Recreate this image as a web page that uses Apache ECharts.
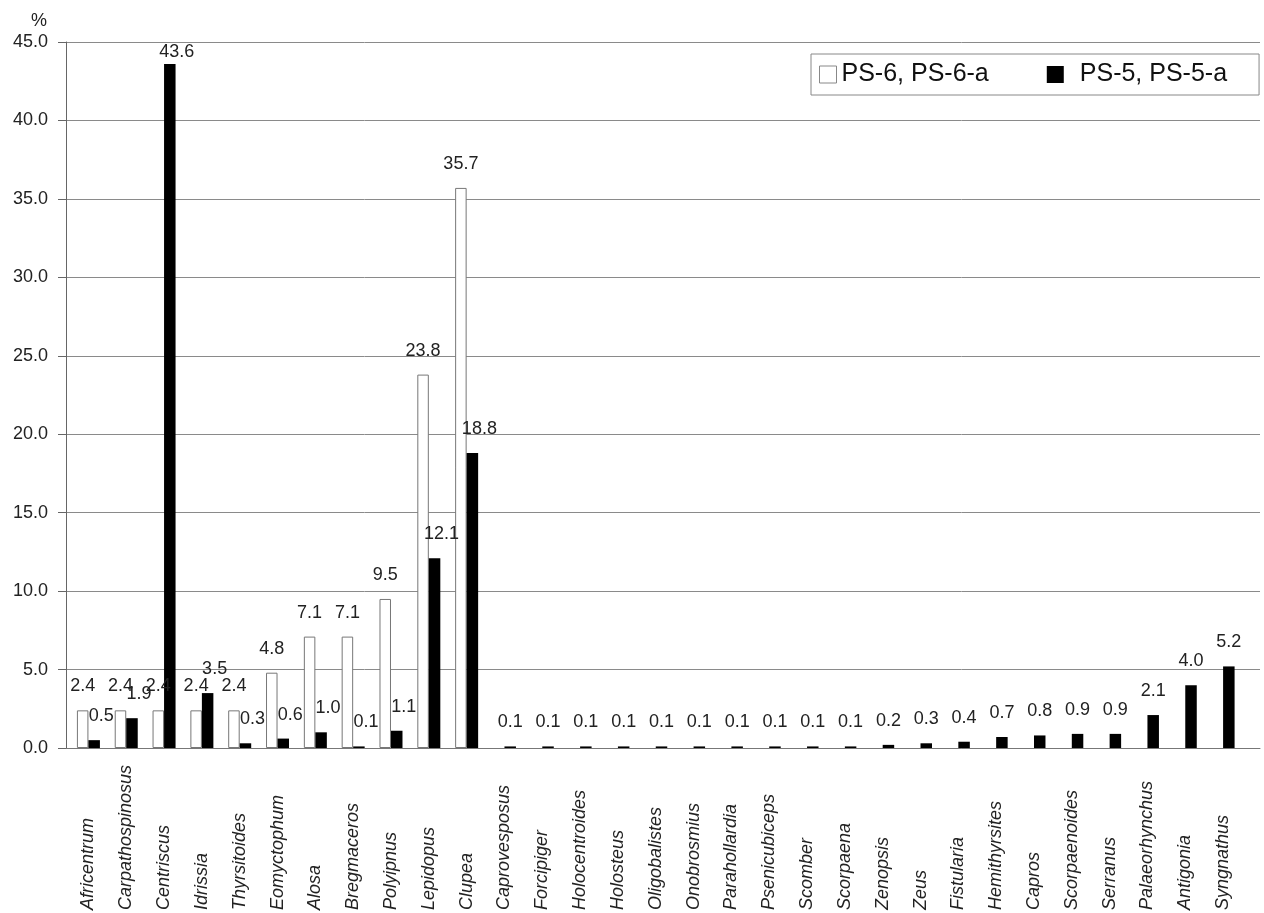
<!DOCTYPE html>
<html>
<head>
<meta charset="utf-8">
<script src="https://cdn.jsdelivr.net/npm/echarts@6/dist/echarts.min.js"></script>
<style>html,body{margin:0;padding:0;background:#fff;}#c{width:1264px;height:913px;}</style>
</head>
<body>
<div id="c"></div>
<script>
const categories = ['Africentrum','Carpathospinosus','Centriscus','Idrissia','Thyrsitoides','Eomyctophum','Alosa','Bregmaceros','Polyipnus','Lepidopus','Clupea','Caprovesposus','Forcipiger','Holocentroides','Holosteus','Oligobalistes','Onobrosmius','Parahollardia','Psenicubiceps','Scomber','Scorpaena','Zenopsis','Zeus','Fistularia','Hemithyrsites','Capros','Scorpaenoides','Serranus','Palaeorhynchus','Antigonia','Syngnathus'];
const ps6 = [2.4,2.4,2.4,2.4,2.4,4.8,7.1,7.1,9.5,23.8,35.7,'-','-','-','-','-','-','-','-','-','-','-','-','-','-','-','-','-','-','-','-'];
const ps5 = [0.5,1.9,43.6,3.5,0.3,0.6,1.0,0.1,1.1,12.1,18.8,0.1,0.1,0.1,0.1,0.1,0.1,0.1,0.1,0.1,0.1,0.2,0.3,0.4,0.7,0.8,0.9,0.9,2.1,4.0,5.2];
const yTicks = [0,5,10,15,20,25,30,35,40,45];
const seriesNames = ['PS-6, PS-6-a','PS-5, PS-5-a'];

const FONT = "'Liberation Sans', Arial, sans-serif";
const chart = echarts.init(document.getElementById('c'));
const fmt = p => Number(p.value).toFixed(1);

const blackData = ps5.map((v, i) => ({
  value: v,
  label: { offset: [ps6[i] !== '-' ? 7 : 0, 0], distance: v > 40 ? 3 : 15 }
}));

chart.setOption({
  animation: false,
  backgroundColor: '#fff',
  textStyle: { fontFamily: FONT },
  grid: [
    { left: 66, right: 4, top: 42, bottom: 165 },
    { left: 69.5, right: 22, top: 42, bottom: 165 }
  ],
  legend: {
    left: 811, top: 54,
    orient: 'horizontal',
    itemWidth: 17, itemHeight: 17, itemGap: 58,
    padding: [8, 32, 8, 8],
    borderColor: '#888', borderWidth: 1, backgroundColor: '#fff',
    textStyle: { fontSize: 25, color: '#111', fontFamily: FONT },
    data: [
      { name: seriesNames[0], icon: 'rect', itemStyle: { color: '#fff', borderColor: '#888', borderWidth: 1 } },
      { name: seriesNames[1], icon: 'rect', itemStyle: { color: '#000' },
        textStyle: { fontSize: 25, color: '#111', fontFamily: FONT, padding: [0, 0, 0, 11] } }
    ]
  },
  xAxis: [
    { gridIndex: 0, type: 'value', min: 0, max: 1, show: true,
      axisLine: { show: true, lineStyle: { color: '#777', width: 1 } },
      axisTick: { show: false }, axisLabel: { show: false }, splitLine: { show: false } },
    { gridIndex: 1, type: 'category', data: categories,
      axisLine: { show: false }, axisTick: { show: false },
      axisLabel: { rotate: 90, align: 'left', verticalAlign: 'middle', margin: 162, interval: 0,
        fontSize: 18, fontStyle: 'italic', color: '#222', fontFamily: FONT } }
  ],
  yAxis: [
    { gridIndex: 0, type: 'value', min: yTicks[0], max: yTicks[yTicks.length - 1], interval: yTicks[1] - yTicks[0],
      name: '%', nameLocation: 'end', nameGap: 12,
      nameTextStyle: { fontSize: 18, color: '#222', align: 'right', padding: [0, 19, 0, 0], fontFamily: FONT },
      axisLine: { show: true, lineStyle: { color: '#666', width: 1 } },
      axisTick: { show: true, length: 8, lineStyle: { color: '#666' } },
      axisLabel: { margin: 18, fontSize: 18, color: '#222', fontFamily: FONT, formatter: v => v.toFixed(1) },
      splitLine: { show: true, lineStyle: { color: '#8a8a8a', width: 1 } } },
    { gridIndex: 1, type: 'value', min: yTicks[0], max: yTicks[yTicks.length - 1], show: false,
      splitLine: { show: false } }
  ],
  series: [
    { name: seriesNames[0], type: 'bar', xAxisIndex: 1, yAxisIndex: 1, data: ps6,
      barWidth: 11.5, barGap: '0%',
      itemStyle: { color: '#fff', borderColor: '#777', borderWidth: 1 },
      label: { show: true, position: 'top', distance: 15, fontSize: 18, color: '#222', fontFamily: FONT, formatter: fmt } },
    { name: seriesNames[1], type: 'bar', xAxisIndex: 1, yAxisIndex: 1, data: blackData,
      barWidth: 11.5, barGap: '0%',
      itemStyle: { color: '#000' },
      label: { show: true, position: 'top', distance: 15, fontSize: 18, color: '#222', fontFamily: FONT, formatter: fmt } }
  ]
});
</script>
</body>
</html>
